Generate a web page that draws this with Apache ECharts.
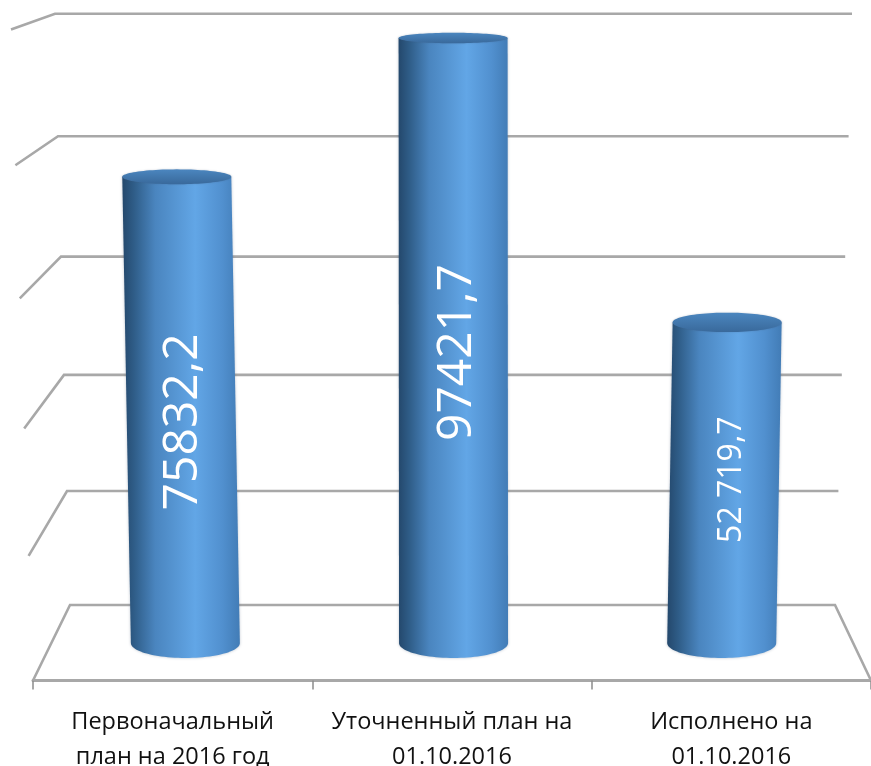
<!DOCTYPE html>
<html><head><meta charset="utf-8">
<style>html,body{margin:0;padding:0;background:#fff}#c{width:871px;height:766px}</style>
<script src="https://cdn.jsdelivr.net/npm/echarts@6/dist/echarts.min.js"></script>
</head><body><div id="c"></div>
<script>
const categories = ['Первоначальный\nплан на 2016 год', 'Уточненный план на\n01.10.2016', 'Исполнено на\n01.10.2016'];
const values = [75832.2, 97421.7, 52719.7];
const valueLabels = ['75832,2', '97421,7', '52 719,7'];
const gridLevels = [0, 20000, 40000, 60000, 80000, 100000];

const STEP = 20000;
const labelFont = [48, 48, 32];
const labelShift = [[2, 12], [4, 12], [7, -3]];
const FONT = '"Open Sans", sans-serif';

// perspective planes: base y, linear and quadratic rise per gridline step
const FRONT = {base: 680.5, a: 123.2, b: 1.4};
const MID = {base: 643, a: 118.6, b: 1.15};
const BACK = {base: 605, a: 112.9, b: 1.07};

function steps(api, v) {
  const y0 = api.coord([0, 0])[1];
  return (y0 - api.coord([0, v])[1]) / (y0 - api.coord([0, STEP])[1]);
}
function planeY(p, t) { return p.base - p.a * t - p.b * t * t; }

function renderWall(params, api) {
  const t = steps(api, api.value(1));
  const cs = params.coordSys;
  const left = cs.x, right = cs.x + cs.width;
  const fy = planeY(FRONT, t), by = planeY(BACK, t);
  const pts = [[left - 4.4 * t, fy], [left + 37 - 3 * t, by], [right - 36 + 3.4 * t, by]];
  if (params.dataIndex === 0) pts.push([right, fy]);
  return {type: 'polyline', shape: {points: pts}, silent: true,
    style: {fill: null, stroke: '#a8a8a8', lineWidth: 2.6, lineJoin: 'miter'}};
}

function renderCylinder(params, api) {
  const i = params.dataIndex;
  const band = api.coord([i, 0])[0];
  const t = steps(api, api.value(1));
  const baseY = MID.base, topY = planeY(MID, t);
  const baseX = 454.5 + (band - 453) * 0.96;
  const topX = baseX + (baseX - 465) * 6.6e-5 * (baseY - topY);
  const half = 54.5, ryBase = 15, ryTop = 15 - 2 * t;
  const body = [];
  const N = 48;
  body.push([topX - half, topY], [topX + half, topY]);
  for (let k = 0; k <= N; k++) {
    const a = Math.PI * k / N;
    body.push([baseX + half * Math.cos(a), baseY + ryBase * Math.sin(a)]);
  }
  const top = [];
  for (let k = 0; k < N * 2; k++) {
    const a = Math.PI * k / N;
    top.push([topX + half * Math.cos(a), topY + ryTop * Math.sin(a)]);
  }
  const s = labelShift[i];
  return {type: 'group', children: [
    {type: 'polygon', shape: {points: body}, silent: true,
      style: {
        fill: new echarts.graphic.LinearGradient(0, 0, 1, 0, [
          {offset: 0, color: '#24486c'}, {offset: 0.1, color: '#2f5d88'},
          {offset: 0.28, color: '#4a85bf'}, {offset: 0.62, color: '#62a6e6'},
          {offset: 0.85, color: '#5190cf'}, {offset: 1, color: '#427cb6'}]),
        shadowBlur: 3, shadowColor: 'rgba(60,80,110,0.35)'
      }},
    {type: 'polygon', shape: {points: top}, silent: true,
      style: {
        fill: new echarts.graphic.LinearGradient(0, 0, 0, 1, [
          {offset: 0, color: '#4b86bf'}, {offset: 1, color: '#39699b'}]),
        shadowBlur: 2, shadowColor: 'rgba(60,80,110,0.3)'
      }},
    {type: 'text', silent: true, rotation: Math.PI / 2,
      x: (baseX + topX) / 2 + s[0], y: (baseY + topY) / 2 + s[1],
      style: {text: valueLabels[i], fill: '#ffffff', font: labelFont[i] + 'px ' + FONT,
        align: 'center', verticalAlign: 'middle'}}
  ]};
}

const chart = echarts.init(document.getElementById('c'), null, {renderer: 'canvas'});
chart.setOption({
  animation: false,
  backgroundColor: '#ffffff',
  grid: {left: 33, right: 0, top: 0, bottom: 85.5, containLabel: false, outerBoundsMode: 'none'},
  xAxis: {
    type: 'category', data: categories, boundaryGap: true,
    axisLine: {show: true, onZero: false, lineStyle: {color: '#a8a8a8', width: 3}},
    axisTick: {show: true, length: 9, lineStyle: {color: '#8c8c8c', width: 1.5}},
    axisLabel: {color: '#111', fontFamily: FONT, fontSize: 23.5, lineHeight: 35, margin: 24, interval: 0}
  },
  yAxis: {type: 'value', min: -6000, max: 100000, show: false, splitLine: {show: false}},
  series: [
    {type: 'custom', renderItem: renderWall, clip: false, z: 1,
      data: gridLevels.map(v => [0, v]), encode: {x: 0, y: 1}},
    {type: 'custom', renderItem: renderCylinder, clip: false, z: 2,
      data: values.map((v, i) => [i, v]), encode: {x: 0, y: 1}}
  ]
});
</script></body></html>
